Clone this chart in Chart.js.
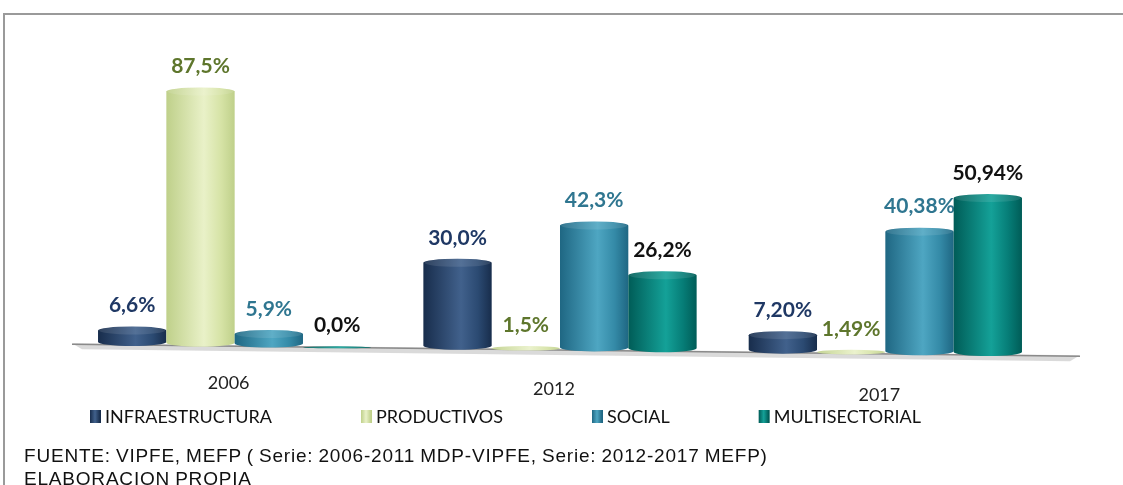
<!DOCTYPE html>
<html>
<head>
<meta charset="utf-8">
<script src="https://cdn.jsdelivr.net/npm/chart.js@4/dist/chart.umd.min.js"></script>
<style>
  body { margin: 0; background: #fff; overflow: hidden; }
  #wrap { position: relative; width: 1123px; height: 485px; overflow: hidden; }
  #frame { position: absolute; left: 3px; top: 13px; width: 1130px; height: 480px;
           border-left: 2px solid #9a9a9a; border-top: 2px solid #9a9a9a; }
  #chart { position: absolute; left: 0; top: 0; }
  .note { position: absolute; left: 24px; font: 19px "Liberation Sans", Arial, sans-serif;
          letter-spacing: 0.8px; word-spacing: -1px; color: #111; white-space: nowrap; }
</style>
</head>
<body>
<div id="wrap">
  <div id="frame"></div>
  <canvas id="chart" width="1123" height="485"></canvas>
  <div class="note" style="top:445px">FUENTE: VIPFE, MEFP ( Serie: 2006-2011 MDP-VIPFE, Serie: 2012-2017 MEFP)</div>
  <div class="note" style="top:468px">ELABORACION PROPIA</div>
</div>
<script>
// data
const years = ['2006', '2012', '2017'];
const seriesNames = ['INFRAESTRUCTURA', 'PRODUCTIVOS', 'SOCIAL', 'MULTISECTORIAL'];
const infraestructura = [6.6, 30.0, 7.20];
const productivos = [87.5, 1.5, 1.49];
const social = [5.9, 42.3, 40.38];
const multisectorial = [0.0, 26.2, 50.94];
const labelDecimals = [1, 1, 2];   // 2017 values are shown with two decimals

// colours: [edge, light, mid] for the cylinder shading, plus label colour
const shades = [
  ['#182d4c', '#41618c', '#2b4a72'],
  ['#bfd08a', '#e9f1c8', '#d6e3a6'],
  ['#1f6783', '#4ea6c2', '#348aa7'],
  ['#005c57', '#14a198', '#067d77']
];
const labelColors = ['#1f3864', '#5e762c', '#2f7690', '#111111'];

const tilt = 0.0118;     // slope of the 3D floor
const depth = 0.00009;   // bars further right look a bit taller
const capRy = 4;

function fmt(v, i) {
  return v.toFixed(labelDecimals[i]).replace('.', ',') + '%';
}

function bodyGradient(ctx, left, w, s) {
  const g = ctx.createLinearGradient(left, 0, left + w, 0);
  g.addColorStop(0, s[0]);
  g.addColorStop(0.55, s[1]);
  g.addColorStop(0.8, s[2]);
  g.addColorStop(1, s[0]);
  return g;
}

const cylinders = {
  id: 'cylinders',
  beforeDatasetsDraw(chart) {
    const ctx = chart.ctx, a = chart.chartArea;
    const mid = (a.left + a.right) / 2;
    const x0 = a.left, x1 = a.right + 32;
    const y0 = a.bottom + (x0 - mid) * tilt, y1 = a.bottom + (x1 - mid) * tilt;
    ctx.save();
    ctx.fillStyle = 'rgba(150,150,150,0.35)';
    ctx.beginPath();
    ctx.moveTo(x0, y0 - 2); ctx.lineTo(x1, y1 - 2); ctx.lineTo(x1 - 10, y1 + 4); ctx.lineTo(x0 + 10, y0 + 4);
    ctx.closePath(); ctx.fill();
    ctx.strokeStyle = '#8a8a8a';
    ctx.lineWidth = 1.5;
    ctx.beginPath(); ctx.moveTo(x0, y0 - 1); ctx.lineTo(x1, y1 - 1); ctx.stroke();
    ctx.restore();
  },
  afterDatasetsDraw(chart) {
    const ctx = chart.ctx, a = chart.chartArea;
    const mid = (a.left + a.right) / 2;
    ctx.save();
    chart.data.datasets.forEach((ds, i) => {
      const meta = chart.getDatasetMeta(i);
      meta.data.forEach((el, j) => {
        const s = shades[i];
        const cx = el.x, w = el.width, left = cx - w / 2;
        const baseY = el.base + (cx - mid) * tilt;
        const h = Math.max((el.base - el.y) * (1 + (cx - mid) * depth), 2);
        const topY = baseY - h;
        const ry = Math.min(capRy, h / 2);
        ctx.fillStyle = bodyGradient(ctx, left, w, s);
        ctx.beginPath();
        ctx.moveTo(left, topY + ry);
        ctx.lineTo(left, baseY - ry);
        ctx.ellipse(cx, baseY - ry, w / 2, ry, 0, Math.PI, 0, true);
        ctx.lineTo(left + w, topY + ry);
        ctx.ellipse(cx, topY + ry, w / 2, ry, 0, 0, Math.PI, true);
        ctx.closePath();
        ctx.fill();
        // soft cap
        ctx.beginPath();
        ctx.ellipse(cx, topY + ry, w / 2 - 1, ry, 0, 0, Math.PI * 2);
        ctx.fillStyle = 'rgba(255,255,255,0.1)';
        ctx.fill();
        // value label
        ctx.fillStyle = labelColors[i];
        ctx.font = 'bold 21px Lato, "DejaVu Sans", sans-serif';
        ctx.textAlign = 'center';
        ctx.textBaseline = 'middle';
        ctx.fillText(fmt(ds.data[j], j), cx, topY - 21);
      });
    });

    // category labels, following the floor slope
    const xs = chart.scales.x;
    ctx.fillStyle = '#222';
    ctx.font = '18px Lato, "DejaVu Sans", sans-serif';
    ctx.textAlign = 'center';
    ctx.textBaseline = 'middle';
    chart.data.labels.forEach((lab, j) => {
      const x = xs.getPixelForValue(j);
      ctx.fillText(lab, x - 6, a.bottom + 38 + (x - mid) * 0.018);
    });

    // legend
    ctx.font = '18px Lato, "DejaVu Sans", sans-serif';
    ctx.textAlign = 'left';
    let lx = 90;
    const ly = 416;
    seriesNames.forEach((name, i) => {
      const s = shades[i];
      const g = ctx.createLinearGradient(lx, 0, lx + 10, 0);
      g.addColorStop(0, s[0]); g.addColorStop(0.5, s[1]); g.addColorStop(1, s[0]);
      ctx.fillStyle = g;
      ctx.fillRect(lx, ly - 6, 11, 13);
      ctx.fillStyle = '#111';
      ctx.fillText(name, lx + 15, ly + 1);
      lx += 15 + ctx.measureText(name).width + 89;
    });
    ctx.restore();
  }
};

const seriesData = [infraestructura, productivos, social, multisectorial];

new Chart(document.getElementById('chart'), {
  type: 'bar',
  data: {
    labels: years,
    datasets: seriesNames.map((name, i) => ({
      label: name,
      data: seriesData[i],
      backgroundColor: 'rgba(0,0,0,0)',
      borderWidth: 0
    }))
  },
  options: {
    responsive: false,
    animation: false,
    layout: { padding: { left: 72, right: 75, top: 51, bottom: 134 } },
    datasets: { bar: { categoryPercentage: 0.84, barPercentage: 1.0 } },
    scales: {
      x: { display: false },
      y: { display: false, min: 0, max: 98 }
    },
    plugins: {
      legend: { display: false },
      tooltip: { enabled: false }
    }
  },
  plugins: [cylinders]
});
</script>
</body>
</html>
